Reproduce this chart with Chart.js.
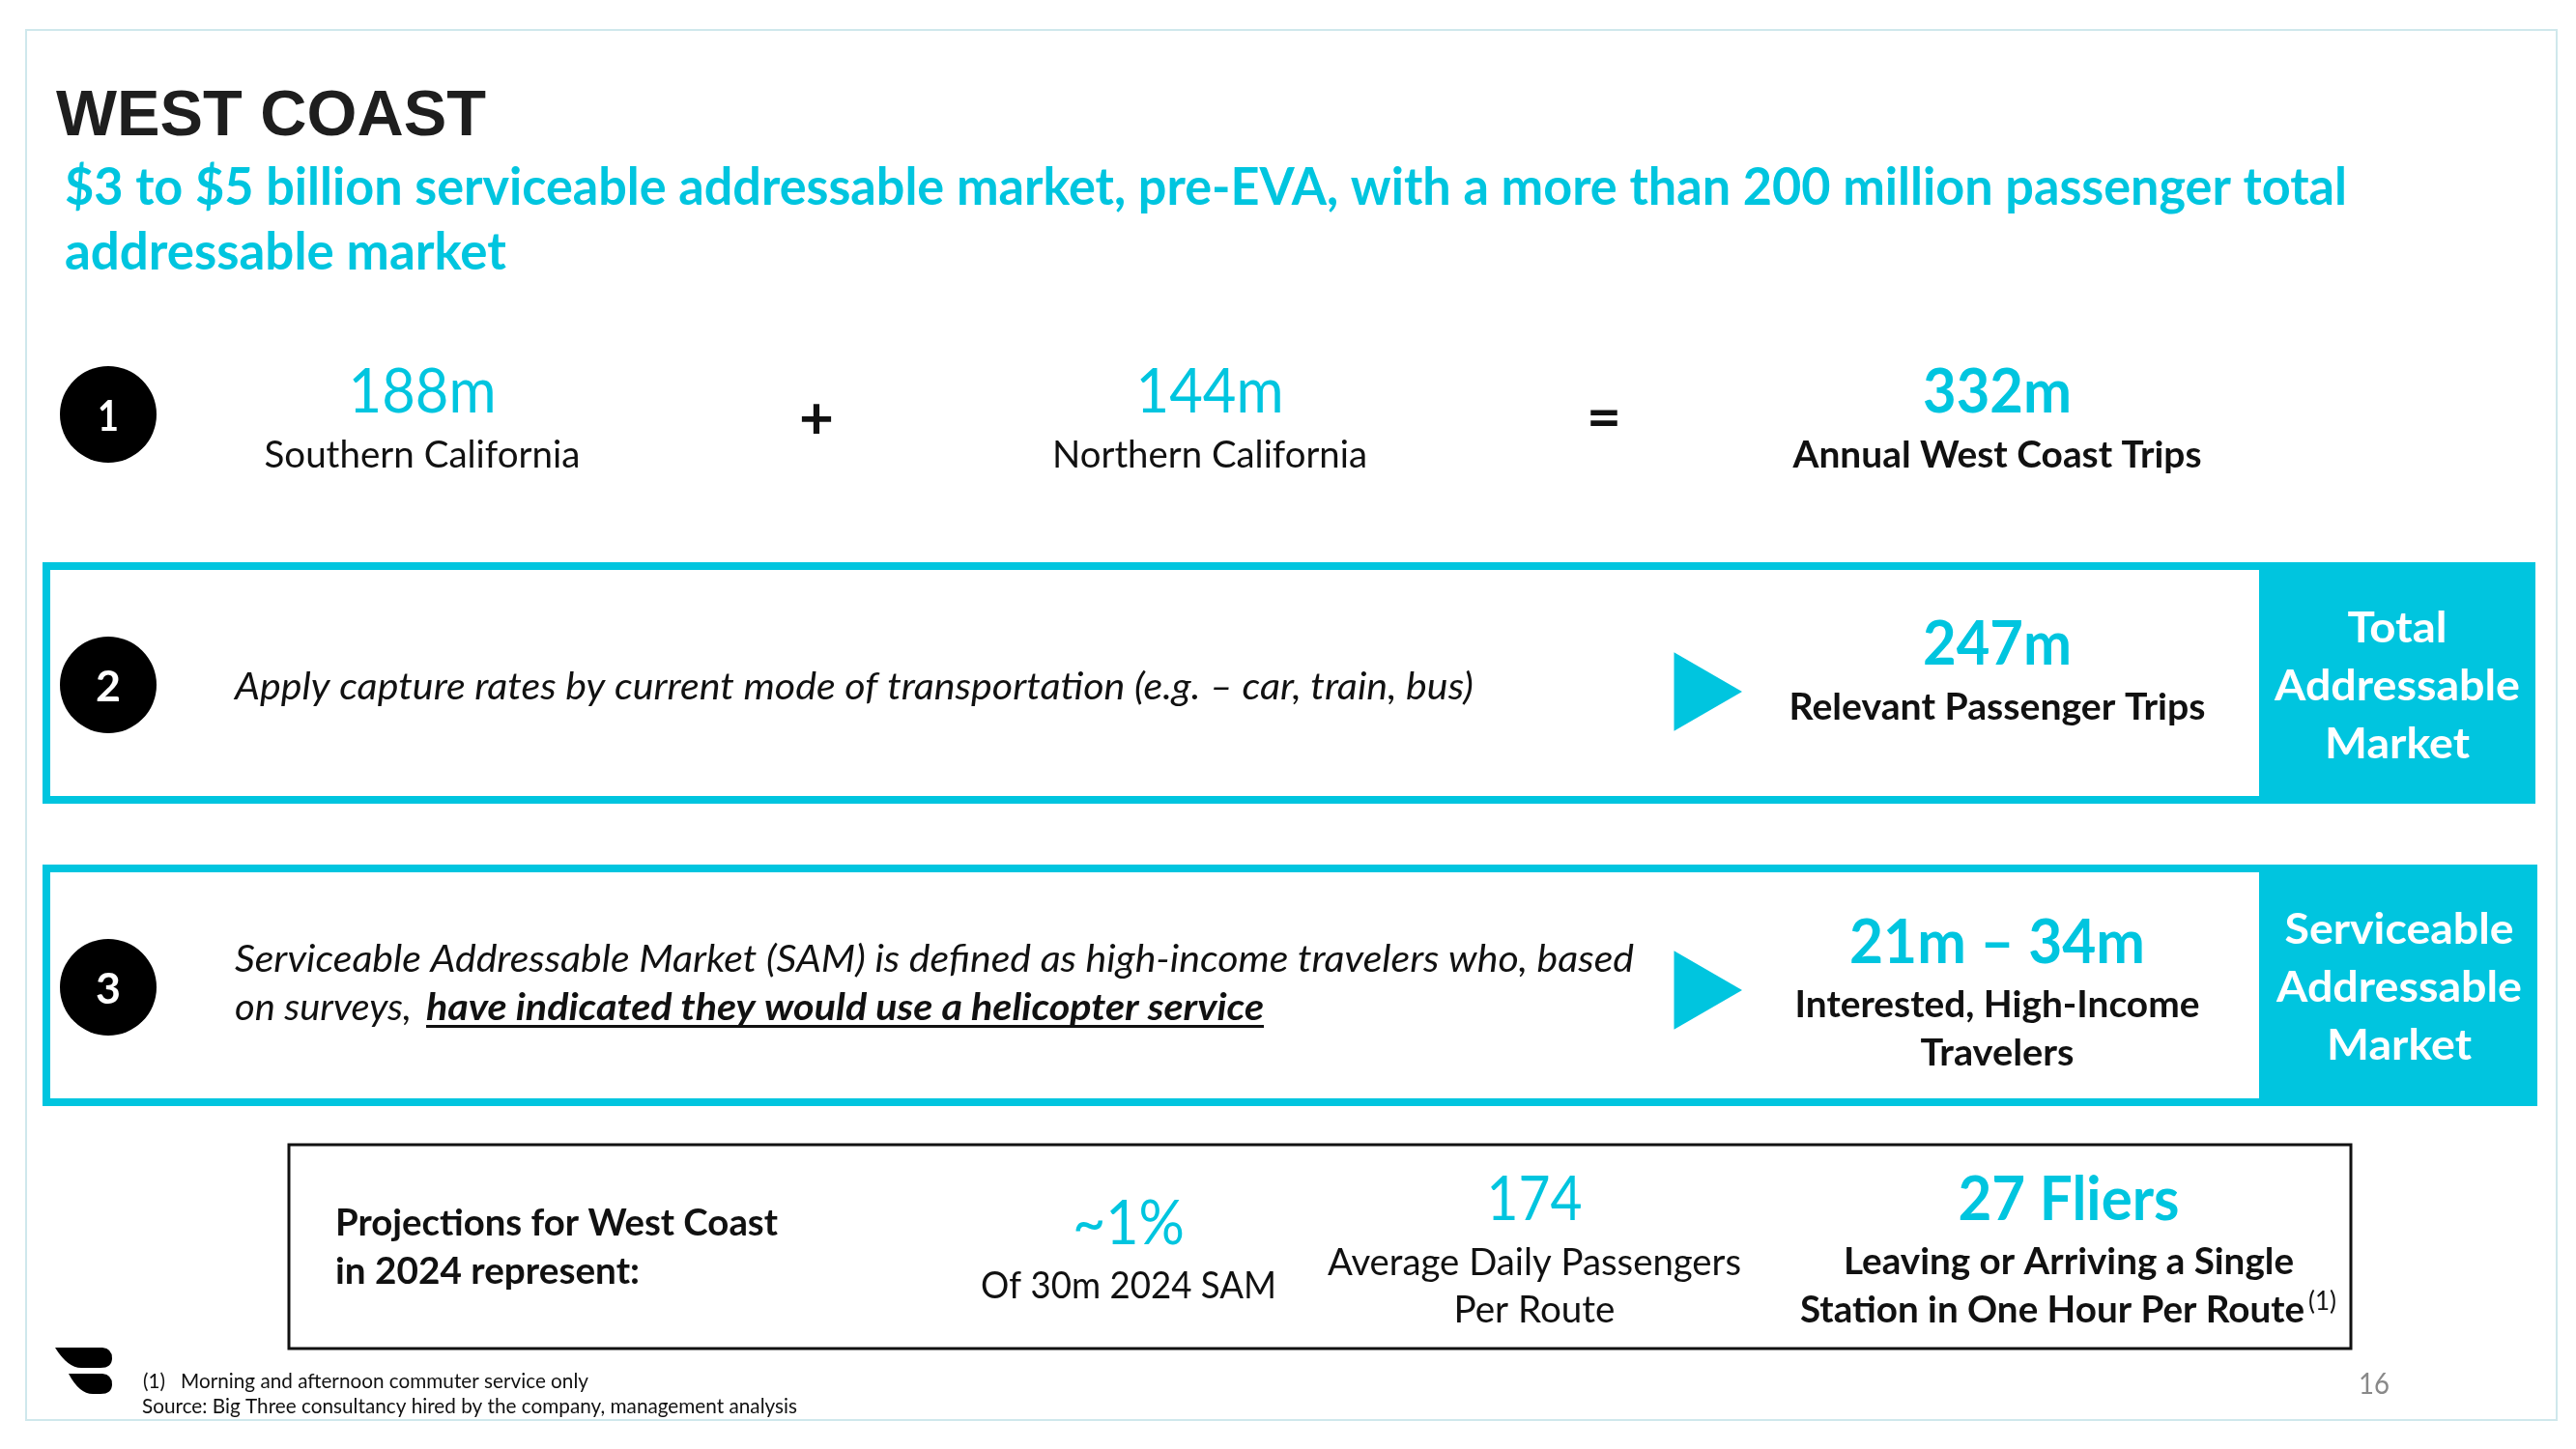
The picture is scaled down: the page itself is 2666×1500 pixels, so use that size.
<!DOCTYPE html>
<html>
<head>
<meta charset="utf-8">
<style>
  html, body { margin: 0; padding: 0; background: #fff; }
  canvas { display: block; }
</style>
<script src="https://cdn.jsdelivr.net/npm/chart.js@4"></script>
</head>
<body>
<canvas id="slide" width="2666" height="1500"></canvas>
<script>
// values and labels
const pageTitle = 'WEST COAST';
const subtitleLines = [
  '$3 to $5 billion serviceable addressable market, pre-EVA, with a more than 200 million passenger total',
  'addressable market'
];
const stepNumbers = ['1', '2', '3'];
const tripValues = ['188m', '144m', '332m'];
const tripLabels = ['Southern California', 'Northern California', 'Annual West Coast Trips'];
const tripOperators = ['+', '='];
const marketValues = ['247m', '21m – 34m'];
const marketLabels = [['Relevant Passenger Trips'], ['Interested, High-Income', 'Travelers']];
const marketNames = [['Total', 'Addressable', 'Market'], ['Serviceable', 'Addressable', 'Market']];
const captureNote = 'Apply capture rates by current mode of transportation (e.g. – car, train, bus)';
const samNote = [
  'Serviceable Addressable Market (SAM) is defined as high-income travelers who, based',
  'on surveys,',
  'have indicated they would use a helicopter service'
];
const projectionTitle = ['Projections for West Coast', 'in 2024 represent:'];
const projectionValues = ['~1%', '174', '27 Fliers'];
const projectionLabels = [
  ['Of 30m 2024 SAM'],
  ['Average Daily Passengers', 'Per Route'],
  ['Leaving or Arriving a Single', 'Station in One Hour Per Route']
];
const footnotes = ['(1)', 'Morning and afternoon commuter service only', 'Source: Big Three consultancy hired by the company, management analysis'];
const pageNumber = '16';

// slide layout, in slide pixels
const TEAL = '#00c5df';
const INK = '#111111';
const circleSpots = [{ x: 112, y: 429 }, { x: 112, y: 709 }, { x: 112, y: 1022 }];
const arrowSpots = [{ x: 1756, y: 716 }, { x: 1756, y: 1025 }];

function slideText(ctx, scales, str, x, y, size, opts) {
  const o = opts || {};
  ctx.save();
  ctx.font = (o.style || 'normal') + ' ' + (o.weight || 400) + ' ' + size + 'px ' + (o.family || 'Lato');
  ctx.fillStyle = o.color || INK;
  ctx.textAlign = o.align || 'center';
  ctx.textBaseline = 'alphabetic';
  ctx.translate(scales.x.getPixelForValue(x), scales.y.getPixelForValue(y));
  // squeeze the font to the width measured on the slide (Calibri is narrower than Lato)
  if (o.width) ctx.scale(o.width / ctx.measureText(str).width, 1);
  ctx.fillText(str, 0, 0);
  ctx.restore();
}

function slideBox(ctx, scales, x0, y0, x1, y1, fill, stroke, lineWidth) {
  const px = scales.x.getPixelForValue(x0);
  const py = scales.y.getPixelForValue(y0);
  const w = scales.x.getPixelForValue(x1) - px;
  const h = scales.y.getPixelForValue(y1) - py;
  if (fill) {
    ctx.fillStyle = fill;
    ctx.fillRect(px, py, w, h);
  }
  if (stroke) {
    ctx.strokeStyle = stroke;
    ctx.lineWidth = lineWidth;
    ctx.strokeRect(px, py, w, h);
  }
}

const panelsPlugin = {
  id: 'panels',
  beforeDatasetsDraw(chart) {
    const { ctx, scales } = chart;
    slideBox(ctx, scales, 27, 31, 2646, 1470, null, '#cfe8ec', 2);
    // market panels
    slideBox(ctx, scales, 48, 586, 2342, 828, null, TEAL, 8);
    slideBox(ctx, scales, 2340, 582, 2624, 832, TEAL);
    slideBox(ctx, scales, 48, 899, 2342, 1141, null, TEAL, 8);
    slideBox(ctx, scales, 2340, 895, 2626, 1145, TEAL);
    // projections box
    slideBox(ctx, scales, 299, 1185, 2433, 1396, null, '#111111', 3);
    // logo
    const X = v => scales.x.getPixelForValue(v);
    const Y = v => scales.y.getPixelForValue(v);
    ctx.fillStyle = '#000';
    ctx.beginPath();
    ctx.moveTo(X(57), Y(1395));
    ctx.lineTo(X(106), Y(1395));
    ctx.quadraticCurveTo(X(116), Y(1396), X(116), Y(1406));
    ctx.quadraticCurveTo(X(116), Y(1416), X(104), Y(1416));
    ctx.lineTo(X(84), Y(1416));
    ctx.quadraticCurveTo(X(70), Y(1416), X(57), Y(1395));
    ctx.fill();
    ctx.beginPath();
    ctx.moveTo(X(71), Y(1422));
    ctx.lineTo(X(106), Y(1422));
    ctx.quadraticCurveTo(X(116), Y(1423), X(116), Y(1433));
    ctx.quadraticCurveTo(X(116), Y(1443), X(104), Y(1443));
    ctx.lineTo(X(96), Y(1443));
    ctx.quadraticCurveTo(X(82), Y(1443), X(71), Y(1422));
    ctx.fill();
  }
};

const textPlugin = {
  id: 'slideTexts',
  afterDatasetsDraw(chart) {
    const { ctx, scales } = chart;
    const t = (str, x, y, size, opts) => slideText(ctx, scales, str, x, y, size, opts);

    t(pageTitle, 58, 140, 67, { weight: 700, family: '"Liberation Sans"', align: 'left', color: '#1e1e1e', width: 445 });
    t(subtitleLines[0], 67, 212, 53, { weight: 700, color: TEAL, align: 'left', width: 2362 });
    t(subtitleLines[1], 67, 279, 53, { weight: 700, color: TEAL, align: 'left', width: 457 });

    stepNumbers.forEach((n, i) => {
      t(n, circleSpots[i].x, circleSpots[i].y + 17, 44, { weight: 700, color: '#fff', width: i ? 26 : 22 });
    });

    // row 1
    t(tripValues[0], 437, 427, 63, { color: TEAL, width: 153 });
    t(tripLabels[0], 437, 484, 38, { width: 327 });
    t(tripOperators[0], 845, 454, 62, { weight: 700 });
    t(tripValues[1], 1252, 427, 63, { color: TEAL, width: 153 });
    t(tripLabels[1], 1252, 484, 38, { width: 326 });
    t(tripOperators[1], 1660, 453, 62, { weight: 700 });
    t(tripValues[2], 2067, 427, 63, { weight: 700, color: TEAL, width: 154 });
    t(tripLabels[2], 2067, 484, 38, { weight: 700, width: 423 });

    // panel 2
    t(captureNote, 243, 724, 39, { style: 'italic', align: 'left', width: 1282 });
    t(marketValues[0], 2067, 688, 63, { weight: 700, color: TEAL, width: 154 });
    t(marketLabels[0][0], 2067, 745, 38, { weight: 700, width: 431 });
    [665, 725, 785].forEach((y, i) => {
      t(marketNames[0][i], 2481, y, 44, { weight: 700, color: '#fff', width: [103, 254, 150][i] });
    });

    // panel 3
    t(samNote[0], 243, 1006, 39, { style: 'italic', align: 'left', width: 1448 });
    t(samNote[1], 243, 1056, 39, { style: 'italic', align: 'left', width: 183 });
    t(samNote[2], 441, 1056, 39, { style: 'italic', weight: 700, align: 'left', width: 867 });
    slideBox(ctx, scales, 441, 1061, 1308, 1064, INK);
    t(marketValues[1], 2067, 997, 63, { weight: 700, color: TEAL, width: 306 });
    t(marketLabels[1][0], 2067, 1053, 38, { weight: 700, width: 419 });
    t(marketLabels[1][1], 2067, 1103, 38, { weight: 700, width: 159 });
    [977, 1037, 1097].forEach((y, i) => {
      t(marketNames[1][i], 2483, y, 44, { weight: 700, color: '#fff', width: [237, 254, 150][i] });
    });

    // projections
    t(projectionTitle[0], 347, 1279, 38, { weight: 700, align: 'left', width: 458 });
    t(projectionTitle[1], 347, 1329, 38, { weight: 700, align: 'left', width: 315 });
    t(projectionValues[0], 1168, 1288, 63, { color: TEAL, width: 116 });
    t(projectionLabels[0][0], 1168, 1344, 38, { width: 306 });
    t(projectionValues[1], 1588, 1263, 63, { color: TEAL, width: 99 });
    t(projectionLabels[1][0], 1588, 1320, 38, { width: 428 });
    t(projectionLabels[1][1], 1588, 1369, 38, { width: 167 });
    t(projectionValues[2], 2141, 1263, 63, { weight: 700, color: TEAL, width: 229 });
    t(projectionLabels[2][0], 2141, 1319, 38, { weight: 700, width: 466 });
    t(projectionLabels[2][1], 2124, 1369, 38, { weight: 700, width: 522 });
    t(footnotes[0], 2389, 1356, 26, { align: 'left', width: 29 });

    // footer
    t(footnotes[0], 148, 1437, 22, { align: 'left', width: 23 });
    t(footnotes[1], 187, 1437, 22, { align: 'left', width: 422 });
    t(footnotes[2], 147, 1463, 22, { align: 'left', width: 678 });
    t(pageNumber, 2457, 1443, 31, { color: '#898989', width: 32 });
  }
};

new Chart(document.getElementById('slide'), {
  type: 'scatter',
  data: {
    datasets: [
      {
        label: 'Steps',
        data: circleSpots,
        pointStyle: 'circle',
        pointRadius: 50,
        pointHoverRadius: 50,
        backgroundColor: '#000',
        borderWidth: 0
      },
      {
        label: 'Arrows',
        data: arrowSpots,
        pointStyle: 'triangle',
        pointRotation: 90,
        pointRadius: 47,
        pointHoverRadius: 47,
        backgroundColor: TEAL,
        borderWidth: 0
      }
    ]
  },
  options: {
    responsive: false,
    animation: false,
    clip: false,
    layout: { padding: 0, autoPadding: false },
    plugins: { legend: { display: false }, tooltip: { enabled: false } },
    scales: {
      x: { type: 'linear', min: 0, max: 2666, display: false },
      y: { type: 'linear', min: 0, max: 1500, reverse: true, display: false }
    }
  },
  plugins: [panelsPlugin, textPlugin]
});
</script>
</body>
</html>
